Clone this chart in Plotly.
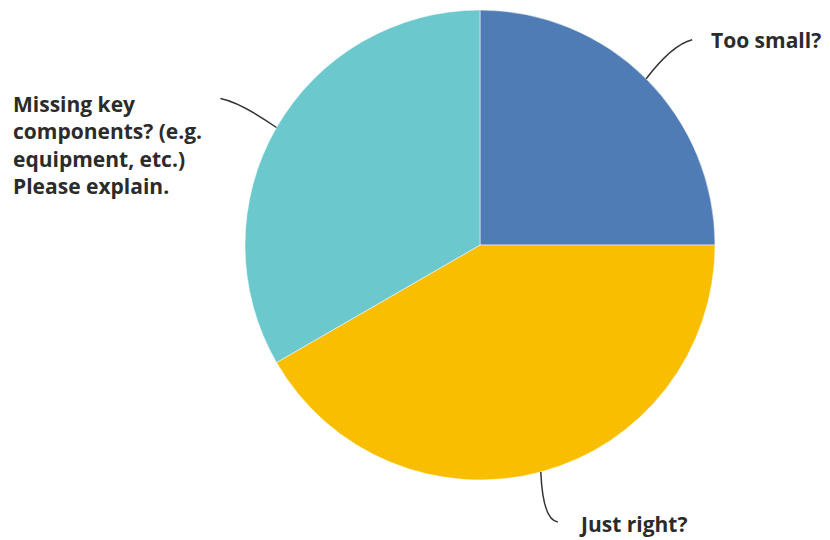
import math
import plotly.graph_objects as go

labels = ["Too small?", "Just right?", "Missing key components? (e.g. equipment, etc.) Please explain."]
label_text = ["Too small?", "Just right?",
              "Missing key<br>components? (e.g.<br>equipment, etc.)<br>Please explain."]
values = [3, 5, 4]
colors = ["#507cb6", "#f9be00", "#6bc8cd"]

W, H = 830, 540
cx, cy, R = 480, 245, 235  # reference pixel geometry

def px(x):
    return x / W

def py(y):
    return 1 - y / H

fig = go.Figure(go.Pie(
    labels=labels, values=values, sort=False, direction="clockwise", rotation=0,
    marker=dict(colors=colors, line=dict(color="white", width=0.5)),
    textinfo="none", showlegend=False,
    domain=dict(x=[px(cx - R), px(cx + R)], y=[py(cy + R), py(cy - R)]),
))

total = sum(values)
anchors = []
acc = 0
for v in values:
    mid = (acc + v / 2) / total * 2 * math.pi
    anchors.append((cx + R * math.sin(mid), cy - R * math.cos(mid)))
    acc += v

leader = [
    dict(ctrl=(26, -34), end=(46, -39), text_xy=(709, 40)),
    dict(ctrl=(2, 48), end=(17, 50), text_xy=(577, 524)),
    dict(ctrl=(-36, -25), end=(-56, -29), text_xy=(11, 145)),
]

shapes = []
annotations = []
for (ax, ay), ld, txt in zip(anchors, leader, label_text):
    qx, qy = ax + ld["ctrl"][0], ay + ld["ctrl"][1]
    ex, ey = ax + ld["end"][0], ay + ld["end"][1]
    path = f"M {px(ax)},{py(ay)} Q {px(qx)},{py(qy)} {px(ex)},{py(ey)}"
    shapes.append(dict(type="path", xref="paper", yref="paper", path=path,
                       line=dict(color="#333333", width=1.5)))
    tx, ty = ld["text_xy"]
    annotations.append(dict(
        x=px(tx), y=py(ty), xref="paper", yref="paper",
        text=txt, showarrow=False, xanchor="left", yanchor="middle", align="left",
        font=dict(family="Open Sans", size=21, color="#2b2b2b", weight=700),
    ))

fig.update_layout(
    width=W, height=H, margin=dict(l=0, r=0, t=0, b=0),
    paper_bgcolor="white", plot_bgcolor="white",
    shapes=shapes, annotations=annotations,
)

fig.write_html("out.html", config={"displayModeBar": False},
               post_script="document.body.style.margin='0';")
